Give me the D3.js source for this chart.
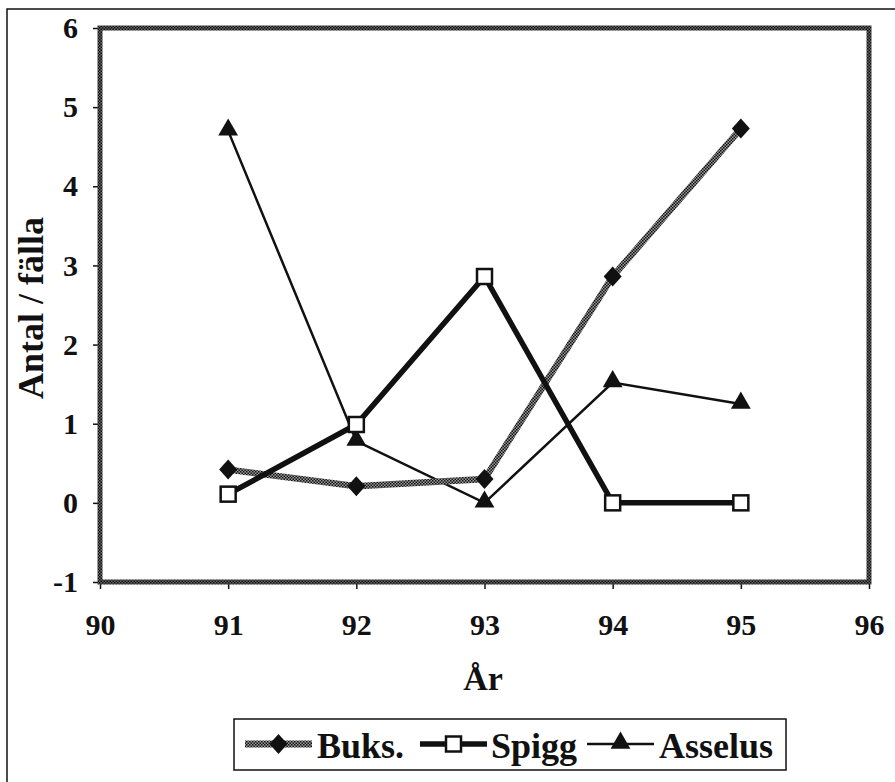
<!DOCTYPE html>
<html><head><meta charset="utf-8">
<script src="https://cdn.jsdelivr.net/npm/d3@7"></script>
<style>body{margin:0;background:#fff}svg{display:block}</style>
</head><body>
<script>
const years = [91, 92, 93, 94, 95];
const buks = [0.42, 0.21, 0.30, 2.86, 4.73];
const spigg = [0.11, 0.99, 2.86, 0, 0];
const asselus = [4.70, 0.78, 0, 1.52, 1.25];
const xTicks = [90, 91, 92, 93, 94, 95, 96];
const yTicks = [-1, 0, 1, 2, 3, 4, 5, 6];
const seriesNames = ["Buks.", "Spigg", "Asselus"];

const W = 895, H = 782;
const svg = d3.select("body").append("svg").attr("width", W).attr("height", H);
const defs = svg.append("defs");
function checker(id, bg) {
  const p = defs.append("pattern").attr("id", id).attr("width", 3).attr("height", 3)
    .attr("patternUnits", "userSpaceOnUse");
  p.append("rect").attr("width", 3).attr("height", 3).attr("fill", bg);
  p.append("rect").attr("width", 1.5).attr("height", 1.5).attr("fill", "#111");
  p.append("rect").attr("x", 1.5).attr("y", 1.5).attr("width", 1.5).attr("height", 1.5).attr("fill", "#111");
}
checker("chk", "#9a9a9a");
checker("chkB", "#666");

// outer frame
svg.append("rect").attr("x", 7).attr("y", 9).attr("width", 900).attr("height", 800)
  .attr("fill", "none").attr("stroke", "#111").attr("stroke-width", 1.5);

const L = 100, R = 869, T = 28, B = 582;
const x = d3.scaleLinear().domain([90, 96]).range([L, R]);
const y = d3.scaleLinear().domain([-1, 6]).range([B, T]);
const font = "'Liberation Serif', 'Times New Roman', serif";

// axes
const ya = svg.append("g").attr("transform", `translate(${L},0)`)
  .call(d3.axisLeft(y).tickValues(yTicks).tickFormat(d => String(d)).tickSize(7).tickPadding(15));
const xa = svg.append("g").attr("transform", `translate(0,${B})`)
  .call(d3.axisBottom(x).tickValues(xTicks).tickFormat(d => String(d)).tickSize(7).tickPadding(25));
[ya, xa].forEach(g => {
  g.select(".domain").remove();
  g.selectAll("line").attr("stroke", "#111").attr("stroke-width", 1.5);
  g.selectAll("text").attr("font-family", font).attr("font-weight", "bold")
    .attr("font-size", 30).attr("fill", "#111");
});

// plot border
svg.append("rect").attr("x", L).attr("y", T).attr("width", R - L).attr("height", B - T)
  .attr("fill", "none").attr("stroke", "url(#chkB)").attr("stroke-width", 5);

// titles
svg.append("text").attr("transform", `translate(43,308) rotate(-90)`)
  .attr("text-anchor", "middle").attr("font-family", font).attr("font-weight", "bold")
  .attr("font-size", 36).attr("fill", "#111").text("Antal / fälla");
svg.append("text").attr("x", 483).attr("y", 690).attr("text-anchor", "middle")
  .attr("font-family", font).attr("font-weight", "bold").attr("font-size", 34).attr("fill", "#111").text("År");

const line = d3.line().x(d => x(d[0])).y(d => y(d[1]));
const mk = arr => years.map((yr, i) => [yr, arr[i]]);

const tri = d3.symbol().type(d3.symbolTriangle).size(170);
const diamondType = { draw(ctx, size) { const w = 9, h = 10;
  ctx.moveTo(0, -h); ctx.lineTo(w, 0); ctx.lineTo(0, h); ctx.lineTo(-w, 0); ctx.closePath(); } };
const dia = d3.symbol().type(diamondType);

// Asselus
svg.append("path").datum(mk(asselus)).attr("d", line).attr("fill", "none")
  .attr("stroke", "#111").attr("stroke-width", 2.5);
// Buks
svg.append("path").datum(mk(buks)).attr("d", line).attr("fill", "none")
  .attr("stroke", "url(#chk)").attr("stroke-width", 6.5);
// Spigg
svg.append("path").datum(mk(spigg)).attr("d", line).attr("fill", "none")
  .attr("stroke", "#111").attr("stroke-width", 5.5);

svg.append("g").selectAll("path").data(mk(asselus)).join("path")
  .attr("d", tri).attr("transform", d => `translate(${x(d[0])},${y(d[1]) - 1})`).attr("fill", "#111");
svg.append("g").selectAll("path").data(mk(buks)).join("path")
  .attr("d", dia).attr("transform", d => `translate(${x(d[0])},${y(d[1])})`).attr("fill", "#111");
svg.append("g").selectAll("rect").data(mk(spigg)).join("rect")
  .attr("x", d => x(d[0]) - 7.5).attr("y", d => y(d[1]) - 7.5).attr("width", 15).attr("height", 15)
  .attr("fill", "#fff").attr("stroke", "#111").attr("stroke-width", 2.5);

// legend
svg.append("rect").attr("x", 234).attr("y", 719).attr("width", 552).attr("height", 51)
  .attr("fill", "#fff").attr("stroke", "#111").attr("stroke-width", 1.5);
const leg = [
  {x0: 245, x1: 312, tx: 317},
  {x0: 420, x1: 487, tx: 491},
  {x0: 587, x1: 654, tx: 659}
];
const ly = 744;
leg.forEach((l, i) => {
  const c = (l.x0 + l.x1) / 2;
  if (i === 0) {
    svg.append("line").attr("x1", l.x0).attr("x2", l.x1).attr("y1", ly).attr("y2", ly)
      .attr("stroke", "url(#chk)").attr("stroke-width", 7);
    svg.append("path").attr("d", dia()).attr("transform", `translate(${c},${ly})`).attr("fill", "#111");
  } else if (i === 1) {
    svg.append("line").attr("x1", l.x0).attr("x2", l.x1).attr("y1", ly).attr("y2", ly)
      .attr("stroke", "#111").attr("stroke-width", 5.5);
    svg.append("rect").attr("x", c - 7.5).attr("y", ly - 7.5).attr("width", 15).attr("height", 15)
      .attr("fill", "#fff").attr("stroke", "#111").attr("stroke-width", 2.5);
  } else {
    svg.append("line").attr("x1", l.x0).attr("x2", l.x1).attr("y1", ly).attr("y2", ly)
      .attr("stroke", "#111").attr("stroke-width", 2.5);
    svg.append("path").attr("d", tri()).attr("transform", `translate(${c},${ly - 1})`).attr("fill", "#111");
  }
  svg.append("text").attr("x", l.tx).attr("y", 758).attr("font-family", font)
    .attr("font-weight", "bold").attr("font-size", 36).attr("fill", "#111").text(seriesNames[i]);
});
</script>
</body></html>
